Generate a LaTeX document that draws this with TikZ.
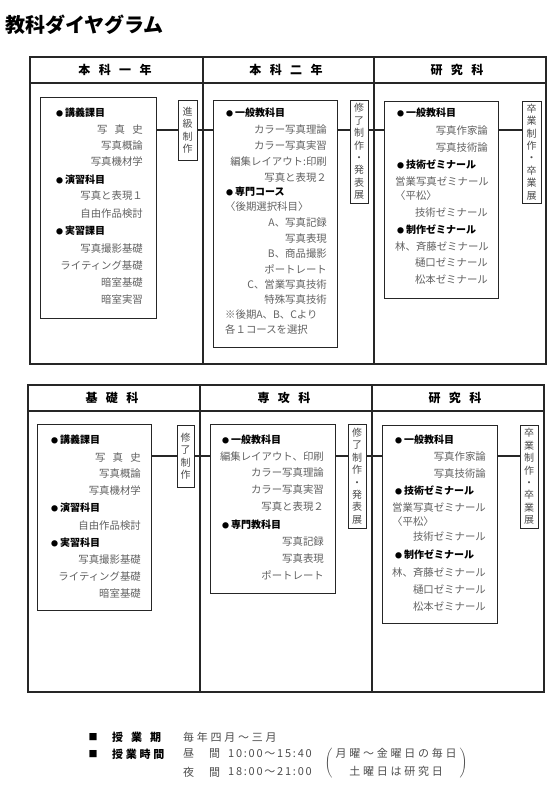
\documentclass[tikz,border=0pt]{standalone}
\usepackage{fontspec}
\setmainfont{Noto Sans CJK JP}

\newcommand\hgap{\hspace{.7em}}
\newcommand\dotmark{{\fontsize{7}{7}\selectfont ●}\hspace{2pt}}

\begin{document}
\begin{tikzpicture}[x=1pt, y=-1pt,
    every node/.style={inner sep=0pt},
    frame/.style={line width=1.1pt, draw=black!85},
    link/.style={line width=1.7pt, draw=black!85},
    colhead/.style={font=\fontsize{12}{14}\selectfont\bfseries},
    listbox/.style={draw=black!85, line width=0.9pt},
    tagbox/.style={draw=black!85, line width=0.9pt, align=center, text=black!70,
      font=\fontsize{10}{12.4}\selectfont},
    head/.style={anchor=west, text height=8pt, text depth=1.5pt,
      font=\fontsize{10}{12}\selectfont\bfseries},
    item/.style={text=black!62, text height=8pt, text depth=1.5pt,
      font=\fontsize{10.4}{12}\selectfont},
    info/.style={anchor=west, font=\fontsize{11}{18}\selectfont\addfontfeature{LetterSpace=25}},
    clock/.style={anchor=west, text=black!70, font=\fontsize{11}{18}\selectfont\addfontfeature{LetterSpace=16}}]

  \useasboundingbox (0,0) rectangle (560,796);

  \node[anchor=west, font=\fontsize{20}{24}\selectfont\bfseries] (title) at (5,25) {教科ダイヤグラム};

  %% Upper chart
  \draw[frame] (30,57) rectangle (546,364);
  \draw[frame] (30,83) -- (546,83);
  \draw[frame] (203,57) -- (203,364);
  \draw[frame] (374,57) -- (374,364);

  \node[colhead] (ha) at (115,70) {本\hgap 科\hgap 一\hgap 年};
  \node[colhead] (hb) at (286,70) {本\hgap 科\hgap 二\hgap 年};
  \node[colhead] (hc) at (457,70) {研\hgap 究\hgap 科};

  % course boxes and work tags
  \node[listbox, minimum width=116pt, minimum height=221pt] (b1) at (98,207.5) {};
  \node[listbox, minimum width=124pt, minimum height=247pt] (b2) at (275,223.5) {};
  \node[listbox, minimum width=114pt, minimum height=197pt] (b3) at (441,199.5) {};
  \node[tagbox, minimum width=19pt, minimum height=60pt] (s1) at (187.5,130) {進\\級\\制\\作};
  \node[tagbox, minimum width=18pt, minimum height=103pt] (s2) at (359,151.5) {修\\了\\制\\作\\・\\発\\表\\展};
  \node[tagbox, minimum width=19pt, minimum height=102pt] (s3) at (531.5,152) {卒\\業\\制\\作\\・\\卒\\業\\展};

  \coordinate (lvl1) at (0,130);
  \foreach \a/\b in {b1/s1, s1/b2, b2/s2, s2/b3, b3/s3}
    \draw[link] (\a.east |- lvl1) -- (\b.west |- lvl1);

  % 本科一年
  \foreach \y/\t [count=\i] in {113/講義課目, 180/演習科目, 231/実習課目}
    \node[head] (b1h\i) at (56,\y) {\dotmark\t};
  \foreach \y/\t [count=\i] in {130/{写\hgap 真\hgap 史}, 146/写真概論, 162/写真機材学,
      196/写真と表現１, 214/自由作品検討, 249/写真撮影基礎, 266/ライティング基礎,
      283/暗室基礎, 300/暗室実習}
    \node[item, anchor=east] (b1r\i) at (143,\y) {\t};

  % 本科二年
  \foreach \y/\t [count=\i] in {113/一般教科目, 192/専門コース}
    \node[head] (b2h\i) at (226,\y) {\dotmark\t};
  \foreach \y/\t [count=\i] in {130/カラー写真理論, 146/カラー写真実習, 162/編集レイアウト:印刷,
      178/写真と表現２, 223/A、写真記録, 239/写真表現, 254/B、商品撮影, 270/ポートレート,
      285/C、営業写真技術, 300/特殊写真技術}
    \node[item, anchor=east] (b2r\i) at (327,\y) {\t};
  \foreach \y/\t [count=\i] in {207/〈後期選択科目〉, 315/※後期A、B、Cより, 330/各１コースを選択}
    \node[item, anchor=west] (b2l\i) at (225,\y) {\t};

  % 研究科
  \foreach \y/\t [count=\i] in {113/一般教科目, 165/技術ゼミナール, 230/制作ゼミナール}
    \node[head] (b3h\i) at (397,\y) {\dotmark\t};
  \foreach \y/\t [count=\i] in {131/写真作家論, 148/写真技術論, 213/技術ゼミナール,
      263/樋口ゼミナール, 280/松本ゼミナール}
    \node[item, anchor=east] (b3r\i) at (488,\y) {\t};
  \foreach \y/\t [count=\i] in {182/営業写真ゼミナール, 196/〈平松〉, 247/林、斉藤ゼミナール}
    \node[item, anchor=west] (b3l\i) at (395,\y) {\t};

  %% Lower chart
  \draw[frame] (28,385) rectangle (544,692);
  \draw[frame] (28,411) -- (544,411);
  \draw[frame] (200,385) -- (200,692);
  \draw[frame] (372,385) -- (372,692);

  \node[colhead] (hd) at (112,398) {基\hgap 礎\hgap 科};
  \node[colhead] (he) at (284,398) {専\hgap 攻\hgap 科};
  \node[colhead] (hf) at (455,398) {研\hgap 究\hgap 科};

  % course boxes and work tags
  \node[listbox, minimum width=114pt, minimum height=186pt] (b4) at (94,517) {};
  \node[listbox, minimum width=125pt, minimum height=169pt] (b5) at (272.5,508.5) {};
  \node[listbox, minimum width=115pt, minimum height=198pt] (b6) at (439.5,524) {};
  \node[tagbox, minimum width=17pt, minimum height=62pt] (s4) at (185.5,456) {修\\了\\制\\作};
  \node[tagbox, minimum width=18pt, minimum height=104pt] (s5) at (357,476) {修\\了\\制\\作\\・\\発\\表\\展};
  \node[tagbox, minimum width=18pt, minimum height=103pt] (s6) at (529,476.5) {卒\\業\\制\\作\\・\\卒\\業\\展};

  \coordinate (lvl2) at (0,456);
  \foreach \a/\b in {b4/s4, s4/b5, b5/s5, s5/b6, b6/s6}
    \draw[link] (\a.east |- lvl2) -- (\b.west |- lvl2);

  % 基礎科
  \foreach \y/\t [count=\i] in {440/講義課目, 508/演習科目, 543/実習科目}
    \node[head] (b4h\i) at (51,\y) {\dotmark\t};
  \foreach \y/\t [count=\i] in {458/{写\hgap 真\hgap 史}, 474/写真概論, 491/写真機材学,
      526/自由作品検討, 560/写真撮影基礎, 577/ライティング基礎, 594/暗室基礎}
    \node[item, anchor=east] (b4r\i) at (141,\y) {\t};

  % 専攻科
  \foreach \y/\t [count=\i] in {440/一般教科目, 525/専門教科目}
    \node[head] (b5h\i) at (222,\y) {\dotmark\t};
  \foreach \y/\t [count=\i] in {457/編集レイアウト、印刷, 473/カラー写真理論, 490/カラー写真実習,
      507/写真と表現２, 542/写真記録, 559/写真表現, 576/ポートレート}
    \node[item, anchor=east] (b5r\i) at (324,\y) {\t};

  % 研究科
  \foreach \y/\t [count=\i] in {440/一般教科目, 491/技術ゼミナール, 555/制作ゼミナール}
    \node[head] (b6h\i) at (395,\y) {\dotmark\t};
  \foreach \y/\t [count=\i] in {457/写真作家論, 474/写真技術論, 537/技術ゼミナール,
      590/樋口ゼミナール, 607/松本ゼミナール}
    \node[item, anchor=east] (b6r\i) at (486,\y) {\t};
  \foreach \y/\t [count=\i] in {508/営業写真ゼミナール, 522/〈平松〉, 573/林、斉藤ゼミナール}
    \node[item, anchor=west] (b6l\i) at (392,\y) {\t};

  %% Class periods
  \node[font=\fontsize{9}{9}\selectfont] (sq1) at (93,737) {■};
  \node[font=\fontsize{9}{9}\selectfont] (sq2) at (93,754) {■};
  \node[info] (lb1) at (112,737) {\bfseries 授\hspace{8pt}業\hspace{8pt}期};
  \node[info, text=black!70] (v1) at (183,737) {毎年四月～三月};
  \node[info] (lb2) at (112,754) {\bfseries 授業時間};
  \node[info, text=black!70] (d1) at (183,754) {昼\hspace{15pt}間};
  \node[clock] (t1) at (228,754) {10:00～15:40};
  \node[info, text=black!70] (d2) at (183,772) {夜\hspace{15pt}間};
  \node[clock] (t2) at (228,772) {18:00～21:00};
  \node[info, anchor=center, text=black!70] (note) at (396,763)
    {$\Bigg(\;\begin{tabular}{@{}c@{}}月曜～金曜日の毎日\\土曜日は研究日\end{tabular}\;\Bigg)$};

\end{tikzpicture}
\end{document}
